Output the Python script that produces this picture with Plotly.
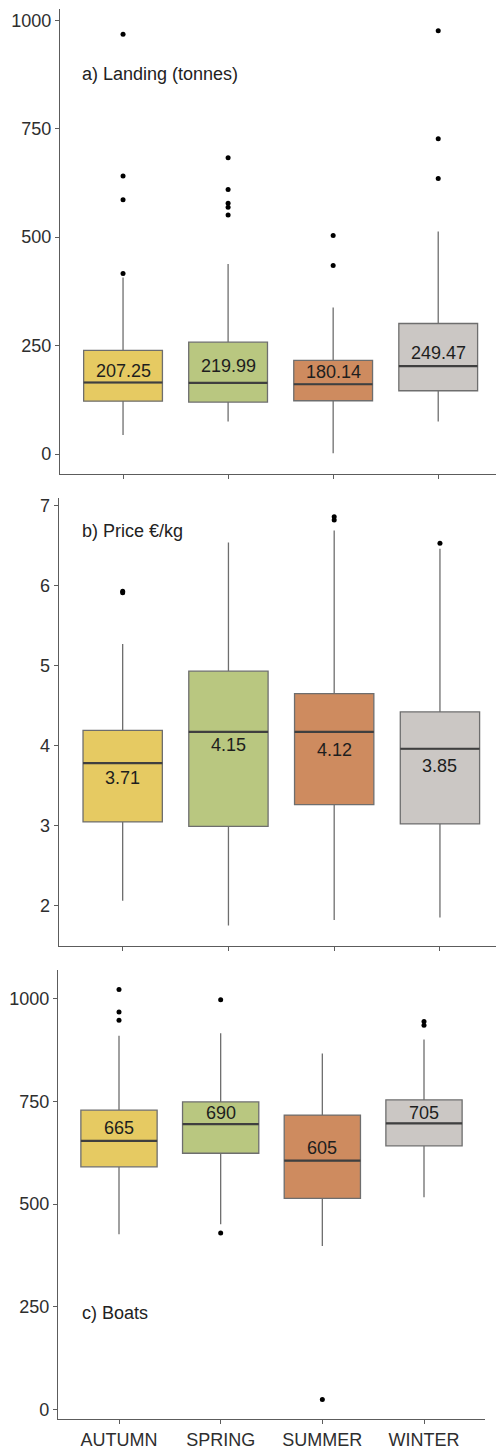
import plotly.graph_objects as go

# Seasons on the x axis
seasons = ["AUTUMN", "SPRING", "SUMMER", "WINTER"]
season_colors = ["#E6CA62", "#B9C780", "#CE8B5F", "#CBC7C4"]

# a) Landing (tonnes)
land_q1 = [122, 120, 123, 146]
land_median = [165, 164, 161, 203]
land_q3 = [239, 258, 216, 301]
land_low = [44, 75, 2, 75]
land_high = [407, 438, 338, 513]
land_mean = [207.25, 219.99, 180.14, 249.47]
land_outliers = [
    [968, 641, 586, 416],
    [683, 610, 578, 569, 551],
    [504, 435],
    [976, 727, 635],
]

# b) Price EUR/kg
price_q1 = [3.045, 2.99, 3.26, 3.02]
price_median = [3.78, 4.17, 4.17, 3.96]
price_q3 = [4.19, 4.93, 4.65, 4.42]
price_low = [2.06, 1.75, 1.82, 1.85]
price_high = [5.27, 6.54, 6.69, 6.46]
price_mean = [3.71, 4.15, 4.12, 3.85]
price_outliers = [
    [5.91, 5.93],
    [],
    [6.82, 6.86],
    [6.53],
]

# c) Boats
boat_q1 = [591, 624, 514, 642]
boat_median = [654, 695, 606, 697]
boat_q3 = [729, 749, 717, 754]
boat_low = [427, 451, 398, 517]
boat_high = [910, 916, 867, 901]
boat_mean = [665, 690, 605, 705]
boat_outliers = [
    [1023, 968, 948],
    [998, 430],
    [24],
    [945, 936],
]

W, H = 496, 1450
FONT = "Liberation Sans, Arial, sans-serif"
FS = 18
BOX_W = 0.75

panels = [
    dict(q1=land_q1, med=land_median, q3=land_q3, lo=land_low, hi=land_high,
         mean=land_mean, out=land_outliers, fmt="{:.2f}",
         title="a) Landing (tonnes)", title_y=72.5,
         xdom=(60, 496), ydom=(7, 474), xr=(-0.6, 3.55), yr=(-45.2, 1026),
         ticks=[0, 250, 500, 750, 1000], nudge=[7, 7.5, -4, 7.5], labels=False),
    dict(q1=price_q1, med=price_median, q3=price_q3, lo=price_low, hi=price_high,
         mean=price_mean, out=price_outliers, fmt="{:.2f}",
         title="b) Price €/kg", title_y=531.7,
         xdom=(58.7, 496), ydom=(498, 948.3), xr=(-0.605, 3.53), yr=(1.497, 7.10),
         ticks=[2, 3, 4, 5, 6, 7], nudge=[9, 11, 14, 8], labels=False),
    dict(q1=boat_q1, med=boat_median, q3=boat_q3, lo=boat_low, hi=boat_high,
         mean=boat_mean, out=boat_outliers, fmt="{:.0f}",
         title="c) Boats", title_y=1317.3,
         xdom=(58, 485), ydom=(973, 1424), xr=(-0.6, 3.6), yr=(-23.5, 1069.6),
         ticks=[0, 250, 500, 750, 1000], nudge=[-8, -13, -13.5, -7.5], labels=True),
]

fig = go.Figure()
annotations = []
axis_line = "#5c5c5c"

for p_idx, p in enumerate(panels):
    sfx = "" if p_idx == 0 else str(p_idx + 1)
    xref, yref = "x" + sfx, "y" + sfx
    for i, season in enumerate(seasons):
        fig.add_trace(go.Box(
            x=[i], q1=[p["q1"][i]], median=[p["med"][i]], q3=[p["q3"][i]],
            lowerfence=[p["lo"][i]], upperfence=[p["hi"][i]],
            width=BOX_W, whiskerwidth=0, boxpoints=False,
            fillcolor=season_colors[i],
            line=dict(color="#6e6e6e", width=1.3),
            xaxis=xref, yaxis=yref, showlegend=False, hoverinfo="skip",
        ))
        # darker median bar on top of the box
        fig.add_trace(go.Scatter(
            x=[i - BOX_W / 2, i + BOX_W / 2], y=[p["med"][i], p["med"][i]],
            mode="lines", line=dict(color="#3f3f3f", width=2.2),
            xaxis=xref, yaxis=yref, showlegend=False, hoverinfo="skip",
        ))
        if p["out"][i]:
            fig.add_trace(go.Scatter(
                x=[i] * len(p["out"][i]), y=p["out"][i], mode="markers",
                marker=dict(color="black", size=5),
                xaxis=xref, yaxis=yref, showlegend=False, hoverinfo="skip",
            ))
        annotations.append(dict(
            x=i, y=p["mean"][i], xref=xref, yref=yref,
            text=p["fmt"].format(p["mean"][i]), showarrow=False,
            yshift=-p["nudge"][i],
            font=dict(family=FONT, size=FS, color="#1e1e1e"),
        ))
    annotations.append(dict(
        x=80 / W, y=1 - p["title_y"] / H, xref="paper", yref="paper",
        xanchor="left", yanchor="middle", text=p["title"], showarrow=False,
        font=dict(family=FONT, size=FS, color="#222222"),
    ))

    xax = dict(
        domain=[p["xdom"][0] / W, p["xdom"][1] / W],
        range=list(p["xr"]), anchor=yref,
        tickmode="array", tickvals=[0, 1, 2, 3], ticktext=seasons,
        showticklabels=p["labels"],
        showline=True, linecolor=axis_line, linewidth=1.4,
        ticks="outside", ticklen=4, tickwidth=1.2, tickcolor=axis_line,
        showgrid=False, zeroline=False,
        tickfont=dict(family=FONT, size=FS, color="#2e2e2e"),
    )
    yax = dict(
        domain=[1 - p["ydom"][1] / H, 1 - p["ydom"][0] / H],
        range=list(p["yr"]), anchor=xref,
        tickmode="array", tickvals=p["ticks"],
        showline=True, linecolor=axis_line, linewidth=1.4,
        ticks="outside", ticklen=4, tickwidth=1.2, tickcolor=axis_line,
        showgrid=False, zeroline=False,
        tickfont=dict(family=FONT, size=FS, color="#2e2e2e"),
    )
    fig.update_layout(**{"xaxis" + sfx: xax, "yaxis" + sfx: yax})

fig.update_layout(
    width=W, height=H,
    margin=dict(l=0, r=0, t=0, b=0),
    paper_bgcolor="white", plot_bgcolor="white",
    annotations=annotations,
    showlegend=False,
)

fig.write_html("out.html")
